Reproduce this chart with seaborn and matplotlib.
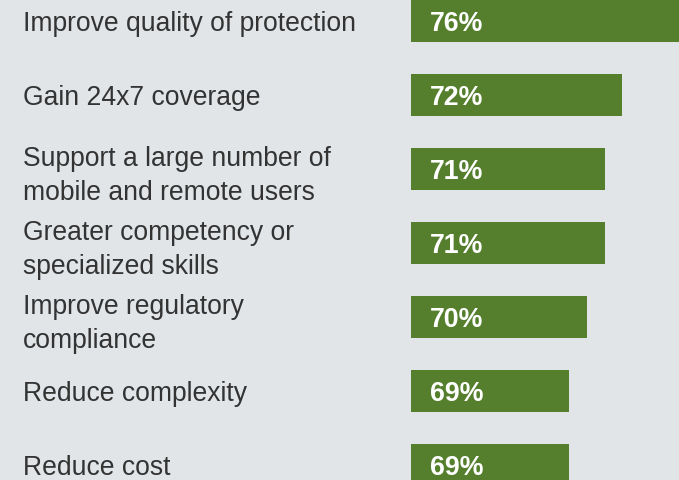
import matplotlib
matplotlib.use("Agg")
import matplotlib.pyplot as plt
import seaborn as sns
import pandas as pd
from matplotlib.transforms import offset_copy

categories = [
    "Improve quality of protection",
    "Gain 24x7 coverage",
    "Support a large number of\nmobile and remote users",
    "Greater competency or\nspecialized skills",
    "Improve regulatory\ncompliance",
    "Reduce complexity",
    "Reduce cost",
]
values = [76, 72, 71, 71, 70, 69, 69]
value_labels = ["76%", "72%", "71%", "71%", "70%", "69%", "69%"]

BG = "#e1e5e8"
GREEN = "#557f2d"
TEXT = "#333333"

sns.set_theme(style="white")
plt.rcParams["font.family"] = ["Liberation Sans", "DejaVu Sans"]

df = pd.DataFrame({"category": categories, "value": values})

fig = plt.figure(figsize=(6.79, 4.80), dpi=100)
fig.patch.set_facecolor(BG)
ax = fig.add_axes([411 / 679, 0, 268 / 679, 1])
ax.set_facecolor(BG)

sns.barplot(data=df, x="value", y="category", orient="h", color=GREEN,
            width=0.57, saturation=1, linewidth=0, edgecolor=GREEN, ax=ax)

ax.set_xlim(60, 75.23)
ax.set_ylim(6.203, -0.284)
for s in ax.spines.values():
    s.set_visible(False)
ax.set_xticks([])
ax.set_xlabel("")
ax.set_ylabel("")
ax.tick_params(axis="y", length=0, pad=388 * 0.72, labelsize=19.1, labelcolor=TEXT)
for lbl in ax.get_yticklabels():
    lbl.set_horizontalalignment("left")
    lbl.set_linespacing(1.42)

for i, lab in enumerate(value_labels):
    tr = offset_copy(ax.transData, fig=fig, x=19, y=-3, units="dots")
    ax.text(60, i, lab, transform=tr, ha="left", va="center",
            color="white", fontsize=19.3, fontweight="bold")

fig.savefig("out.png", dpi=100, facecolor=BG)
